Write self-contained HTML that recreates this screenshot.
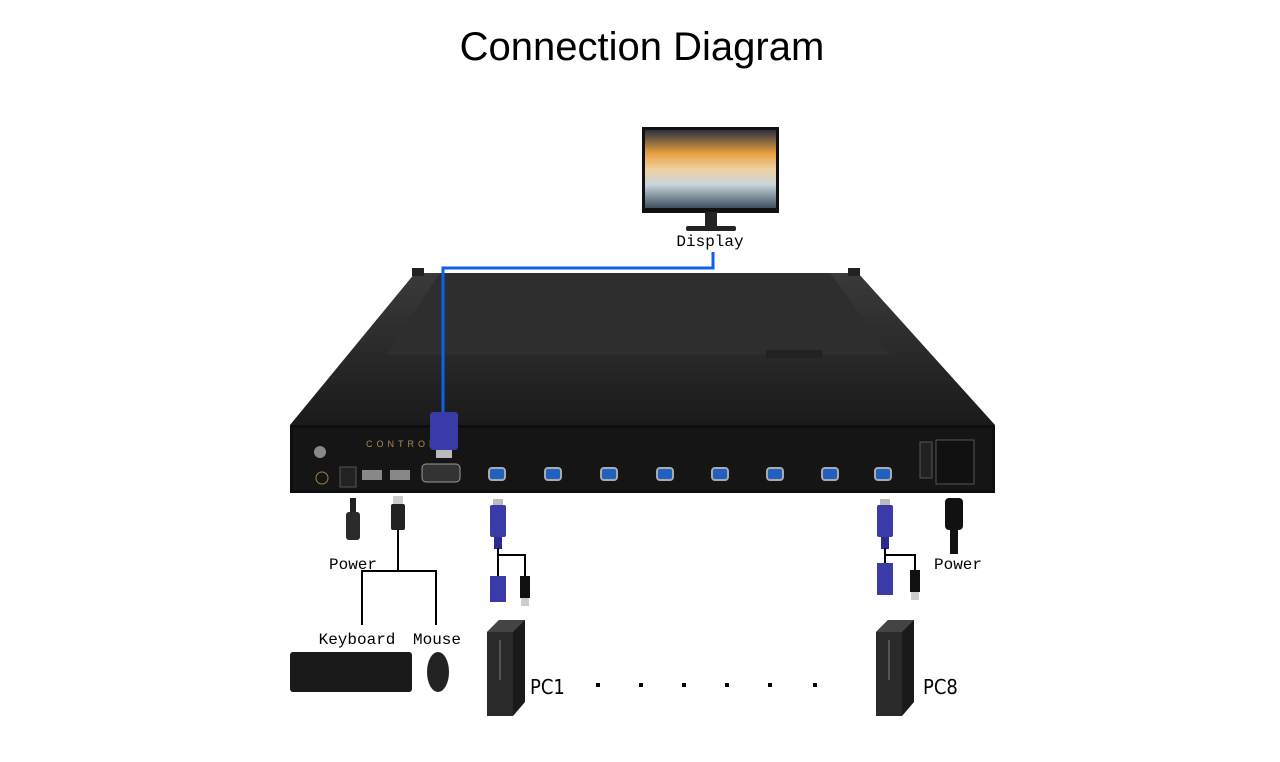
<!DOCTYPE html>
<html><head><meta charset="utf-8"><style>
body{margin:0;background:#fff;width:1280px;height:762px;overflow:hidden}
svg{display:block}
.m{font-family:"Liberation Mono",monospace;font-size:16px;fill:#000}
.n{font-family:"DejaVu Sans Condensed","Liberation Sans",sans-serif;font-size:20px;fill:#000}
</style></head><body>
<svg width="1280" height="762" viewBox="0 0 1280 762">
<defs>
<linearGradient id="sky" x1="0" y1="0" x2="0" y2="1">
<stop offset="0" stop-color="#2a3040"/><stop offset="0.3" stop-color="#e8a040"/><stop offset="0.5" stop-color="#f0d0a0"/><stop offset="0.7" stop-color="#c8d4dc"/><stop offset="1" stop-color="#405060"/></linearGradient>
<linearGradient id="top" x1="0" y1="0" x2="0" y2="1"><stop offset="0" stop-color="#3a3a3a"/><stop offset="1" stop-color="#1a1a1a"/></linearGradient>
<g id="vga"><rect x="-8" y="-6" width="16" height="12" rx="3" fill="#2060c0" stroke="#aaa" stroke-width="2"/></g>
<g id="plug"><rect x="-8" y="0" width="16" height="32" rx="2" fill="#3a3aa8"/><rect x="-5" y="-6" width="10" height="6" fill="#bbb"/><rect x="-4" y="32" width="8" height="12" fill="#2a2a90"/></g>
<g id="pc"><polygon points="0,12 12,0 38,0 38,82 26,96 0,96" fill="#1a1a1a"/><polygon points="0,12 26,12 26,96 0,96" fill="#2a2a2a"/><polygon points="0,12 12,0 38,0 26,12" fill="#444"/><line x1="13" y1="20" x2="13" y2="60" stroke="#555" stroke-width="2"/></g>
</defs>
<text x="642" y="60" text-anchor="middle" font-family="'Liberation Sans',sans-serif" font-size="40">Connection Diagram</text>
<!-- monitor -->
<rect x="642" y="127" width="137" height="86" fill="#111"/>
<rect x="645" y="130" width="131" height="78" fill="url(#sky)"/>
<rect x="705" y="212" width="12" height="16" fill="#222"/>
<rect x="686" y="226" width="50" height="5" rx="2" fill="#222"/>
<text x="710" y="246" class="m" text-anchor="middle">Display</text>
<!-- device -->
<polygon points="415,273 858,273 995,425 290,425" fill="url(#top)"/>
<rect x="412" y="268" width="12" height="8" fill="#222"/><rect x="848" y="268" width="12" height="8" fill="#222"/>
<polygon points="440,273 830,273 890,355 385,355" fill="#2e2e2e"/>
<rect x="766" y="350" width="56" height="8" fill="#222"/>
<rect x="290" y="425" width="705" height="68" fill="#0e0e0e"/>
<rect x="293" y="428" width="699" height="62" fill="#151515"/>
<text x="366" y="447" font-family="'Liberation Sans',sans-serif" font-size="9" fill="#b08850" letter-spacing="4">CONTROL</text>
<circle cx="320" cy="452" r="6" fill="#888"/><circle cx="322" cy="478" r="6" fill="none" stroke="#a08050"/>
<rect x="340" y="467" width="16" height="20" fill="#222" stroke="#555"/>
<rect x="362" y="470" width="20" height="10" fill="#888"/><rect x="390" y="470" width="20" height="10" fill="#888"/>
<rect x="422" y="464" width="38" height="18" rx="4" fill="#333" stroke="#999"/>
<g><use href="#vga" x="497" y="474"/><use href="#vga" x="553" y="474"/><use href="#vga" x="609" y="474"/><use href="#vga" x="665" y="474"/><use href="#vga" x="720" y="474"/><use href="#vga" x="775" y="474"/><use href="#vga" x="830" y="474"/><use href="#vga" x="883" y="474"/></g>
<rect x="920" y="442" width="12" height="36" fill="#222" stroke="#555"/>
<rect x="936" y="440" width="38" height="44" fill="#111" stroke="#555"/>
<!-- blue cable -->
<polyline points="713,252 713,268 443,268 443,425" fill="none" stroke="#1060f0" stroke-width="3"/>
<rect x="430" y="412" width="28" height="38" rx="3" fill="#3a3aa8"/>
<rect x="436" y="450" width="16" height="8" fill="#bbb"/>
<!-- left cables -->
<rect x="350" y="498" width="6" height="40" fill="#222"/><rect x="346" y="512" width="14" height="28" rx="3" fill="#2a2a2a"/>
<rect x="393" y="496" width="10" height="8" fill="#ccc"/><rect x="391" y="504" width="14" height="26" rx="2" fill="#222"/>
<polyline points="398,530 398,571 362,571 362,625" fill="none" stroke="#000" stroke-width="2"/>
<polyline points="398,571 436,571 436,625" fill="none" stroke="#000" stroke-width="2"/>
<text x="353" y="569" class="m" text-anchor="middle">Power</text>
<text x="357" y="644" class="m" text-anchor="middle">Keyboard</text>
<text x="437" y="644" class="m" text-anchor="middle">Mouse</text>
<rect x="290" y="652" width="122" height="40" rx="3" fill="#1a1a1a"/>
<ellipse cx="438" cy="672" rx="11" ry="20" fill="#222"/>
<!-- PC1 cable -->
<use href="#plug" x="498" y="505"/>
<polyline points="498,548 498,555 525,555 525,578" fill="none" stroke="#000" stroke-width="2"/>
<line x1="498" y1="548" x2="498" y2="578" stroke="#000" stroke-width="2"/>
<rect x="490" y="576" width="16" height="26" fill="#3a3aa8"/>
<rect x="520" y="576" width="10" height="22" fill="#111"/><rect x="521" y="598" width="8" height="8" fill="#ccc"/>
<use href="#pc" x="487" y="620"/>
<text x="530" y="694" class="n">PC1</text>
<g fill="#000"><rect x="596" y="683" width="4" height="4"/><rect x="639" y="683" width="4" height="4"/><rect x="682" y="683" width="4" height="4"/><rect x="725" y="683" width="4" height="4"/><rect x="768" y="683" width="4" height="4"/><rect x="813" y="683" width="4" height="4"/></g>
<!-- PC8 cable -->
<use href="#plug" x="885" y="505"/>
<polyline points="885,548 885,555 915,555 915,572" fill="none" stroke="#000" stroke-width="2"/>
<line x1="885" y1="548" x2="885" y2="565" stroke="#000" stroke-width="2"/>
<rect x="877" y="563" width="16" height="32" fill="#3a3aa8"/>
<rect x="910" y="570" width="10" height="22" fill="#111"/><rect x="911" y="592" width="8" height="8" fill="#ccc"/>
<rect x="945" y="498" width="18" height="32" rx="4" fill="#111"/><rect x="950" y="530" width="8" height="24" fill="#111"/>
<text x="958" y="569" class="m" text-anchor="middle">Power</text>
<use href="#pc" x="876" y="620"/>
<text x="923" y="694" class="n">PC8</text>
</svg>
</body></html>
